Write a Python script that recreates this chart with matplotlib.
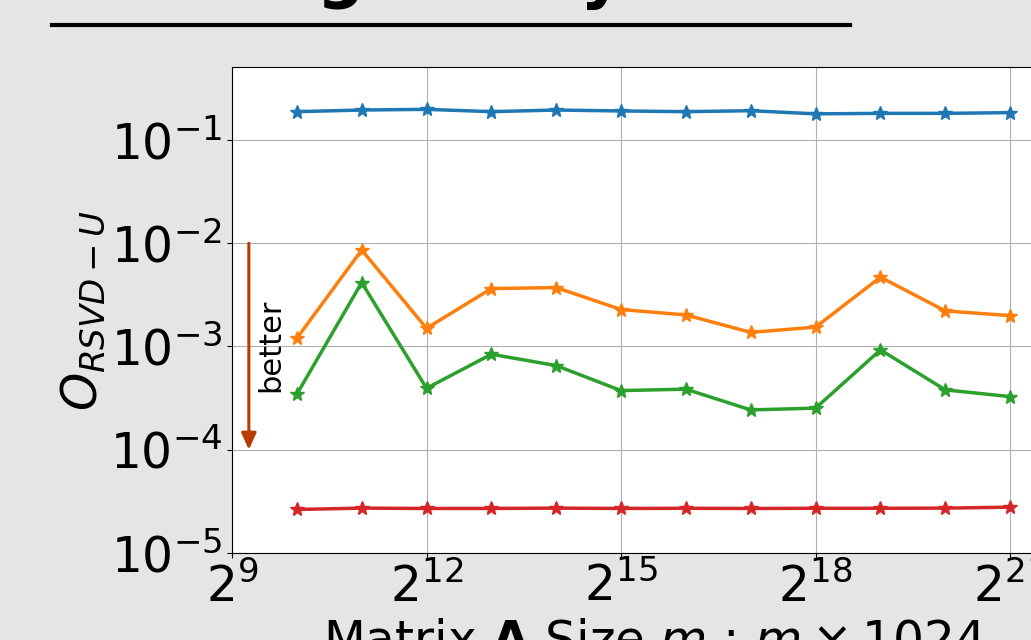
import numpy as np
import matplotlib
matplotlib.use("Agg")
import matplotlib.pyplot as plt
from matplotlib.lines import Line2D

# matrix sizes (m = 2^10 ... 2^21)
exponents = [10, 11, 12, 13, 14, 15, 16, 17, 18, 19, 20, 21]
sizes = [2 ** e for e in exponents]

# orthogonality loss of U for each method
series_blue = [0.188, 0.195, 0.198, 0.188, 0.195, 0.191, 0.188, 0.192, 0.179, 0.181, 0.181, 0.184]
series_orange = [1.20e-3, 8.6e-3, 1.50e-3, 3.64e-3, 3.72e-3, 2.28e-3, 2.02e-3, 1.37e-3, 1.54e-3, 4.69e-3, 2.21e-3, 1.99e-3]
series_green = [3.45e-4, 4.16e-3, 3.94e-4, 8.41e-4, 6.53e-4, 3.74e-4, 3.86e-4, 2.43e-4, 2.53e-4, 9.27e-4, 3.80e-4, 3.27e-4]
series_red = [2.64e-5, 2.72e-5, 2.70e-5, 2.70e-5, 2.72e-5, 2.70e-5, 2.71e-5, 2.70e-5, 2.71e-5, 2.71e-5, 2.72e-5, 2.78e-5]

xtick_exp = [9, 12, 15, 18, 21]
ytick_exp = [-5, -4, -3, -2, -1]

fig = plt.figure(figsize=(10.31, 6.40), dpi=100)
fig.patch.set_facecolor("#e5e5e5")

# axes runs off the right edge like in the cropped original
ax = fig.add_axes([232 / 1031, 87 / 640, 843 / 1031, 486 / 640])
ax.set_facecolor("white")

for vals, c in [(series_blue, "C0"), (series_orange, "C1"),
                (series_green, "C2"), (series_red, "C3")]:
    ax.plot(sizes, vals, marker="*", color=c, lw=2.5, markersize=10)

ax.set_xscale("log", base=2)
ax.set_yscale("log")
ax.set_xlim(2 ** 9, 2 ** 22)
ax.set_ylim(1e-5, 0.509)
ax.set_xticks([2 ** e for e in xtick_exp])
ax.set_yticks([10.0 ** e for e in ytick_exp])
ax.minorticks_off()
ax.grid(True, color="#b0b0b0", lw=0.8)
ax.tick_params(labelsize=35)

ax.set_xlabel(r"Matrix $\mathbf{A}$ Size $m$ : $m \times 1024$", fontsize=35)
ax.set_ylabel(r"$O_{RSVD-U}$", fontsize=35, labelpad=2)

# "better" arrow
ax.annotate("", xy=(2 ** 9.26, 1e-4), xytext=(2 ** 9.26, 1e-2),
            arrowprops=dict(arrowstyle="-|>,head_length=1.0,head_width=0.45",
                            color="#b83c00", lw=2.2, shrinkA=0, shrinkB=0))
ax.text(2 ** 9.6, 1.03e-3, "better", rotation=90, fontsize=22,
        ha="center", va="center")

# title (mostly cut off) with rule underneath
fig.text(451 / 1031, 1.008, "Orthogonality of U", ha="center", va="baseline",
         fontsize=48, fontweight="bold")
fig.add_artist(Line2D([52 / 1031, 850 / 1031], [1 - 25 / 640] * 2,
                      color="black", lw=3, transform=fig.transFigure))

fig.savefig("out.png", dpi=100, facecolor=fig.get_facecolor())
